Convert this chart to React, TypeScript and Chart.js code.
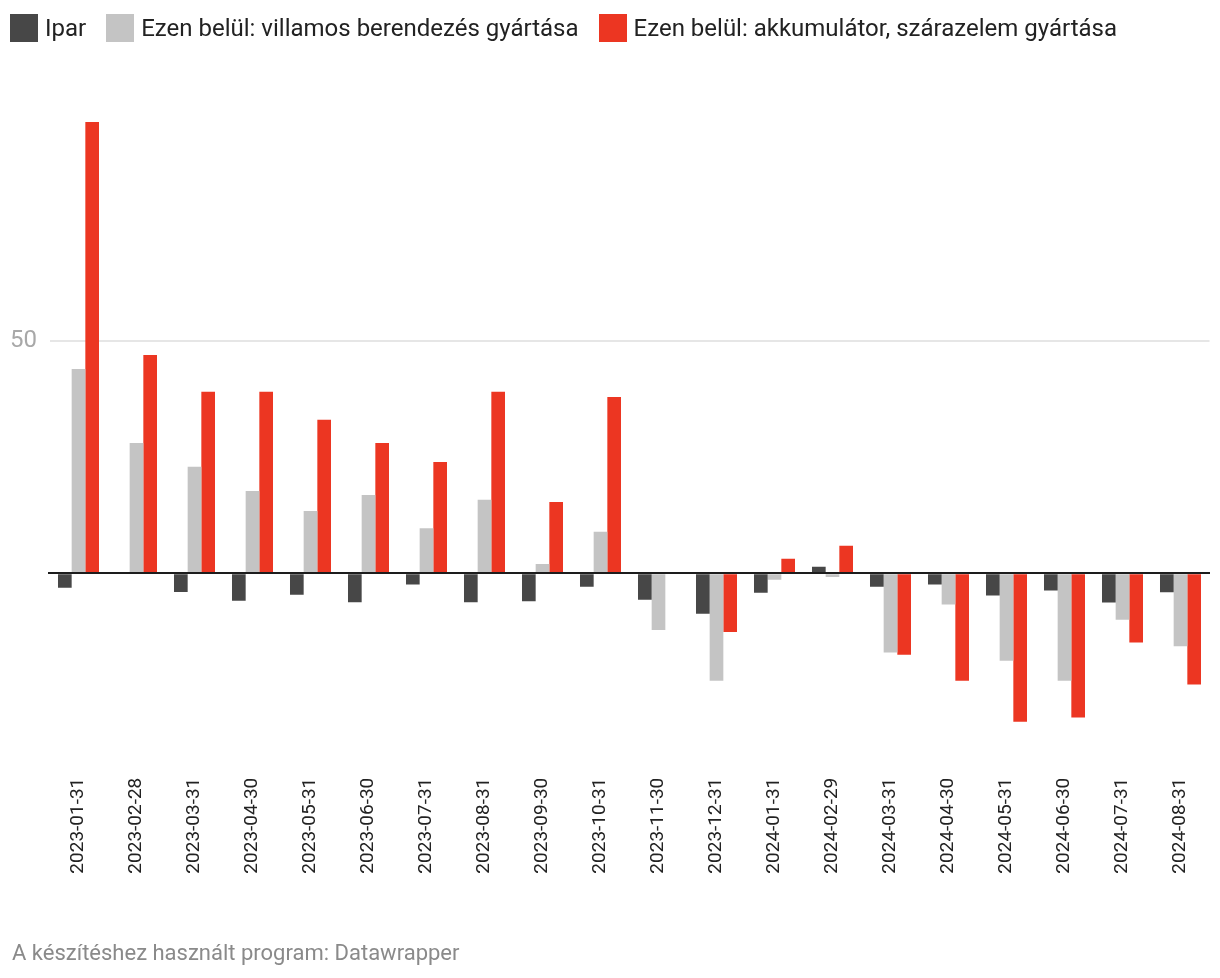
import React, { useEffect, useRef } from "react";
import { Chart, registerables } from "chart.js";

Chart.register(...registerables);

const categories: string[] = [
  "2023-01-31", "2023-02-28", "2023-03-31", "2023-04-30", "2023-05-31",
  "2023-06-30", "2023-07-31", "2023-08-31", "2023-09-30", "2023-10-31",
  "2023-11-30", "2023-12-31", "2024-01-31", "2024-02-29", "2024-03-31",
  "2024-04-30", "2024-05-31", "2024-06-30", "2024-07-31", "2024-08-31",
];

const seriesNames: string[] = [
  "Ipar",
  "Ezen belül: villamos berendezés gyártása",
  "Ezen belül: akkumulátor, szárazelem gyártása",
];

const ipar: number[] = [
  -3.1, 0, -4.0, -5.9, -4.6, -6.2, -2.4, -6.2, -6.0, -2.9,
  -5.7, -8.7, -4.2, 1.4, -2.9, -2.4, -4.8, -3.7, -6.3, -4.1,
];

const villamos: number[] = [
  43.9, 28.0, 22.9, 17.7, 13.4, 16.8, 9.7, 15.8, 2.0, 8.9,
  -12.2, -23.1, -1.4, -0.8, -17.0, -6.7, -18.8, -23.1, -10.0, -15.7,
];

const akkumulator: number[] = [
  97.0, 46.9, 39.0, 39.0, 33.0, 28.0, 23.9, 39.0, 15.3, 37.9,
  0.3, -12.6, 3.1, 5.9, -17.5, -23.1, -31.9, -31.0, -14.9, -23.9,
];

const yTicks: number[] = [0, 50];
const yLabelTicks: number[] = [50];

const colors = ["#474747", "#c4c4c4", "#ec3622"];

const FONT = "Roboto, 'Noto Sans', sans-serif";

const zeroLinePlugin = {
  id: "zeroLine",
  afterDatasetsDraw(chart: any) {
    const y = chart.scales.y;
    const area = chart.chartArea;
    const py = Math.round(y.getPixelForValue(0));
    const ctx = chart.ctx;
    ctx.save();
    ctx.strokeStyle = "#1d1d1d";
    ctx.lineWidth = 2;
    ctx.beginPath();
    ctx.moveTo(area.left - 1.5, py);
    ctx.lineTo(area.right + 0.5, py);
    ctx.stroke();
    ctx.restore();
  },
};

export default function App() {
  const canvasRef = useRef<HTMLCanvasElement | null>(null);

  useEffect(() => {
    if (!canvasRef.current) return;
    const seriesData = [ipar, villamos, akkumulator];
    const chart = new Chart(canvasRef.current, {
      type: "bar",
      data: {
        labels: categories,
        datasets: seriesNames.map((name, i) => ({
          label: name,
          data: seriesData[i],
          backgroundColor: colors[i],
          borderWidth: 0,
          categoryPercentage: 0.707,
          barPercentage: 1.0,
        })),
      },
      options: {
        responsive: false,
        animation: false,
        devicePixelRatio: 1,
        layout: { padding: { left: 10, right: 10.5, top: 108, bottom: 0 } },
        plugins: {
          legend: { display: false },
          tooltip: { enabled: false },
        },
        scales: {
          x: {
            grid: { display: false, drawTicks: false },
            border: { display: false },
            ticks: {
              autoSkip: false,
              minRotation: 90,
              maxRotation: 90,
              padding: 9,
              color: "#222222",
              font: { family: FONT, size: 19 },
            },
            afterFit: (scale: any) => {
              scale.height = 209.3;
            },
          },
          y: {
            min: -42,
            max: 100,
            grid: {
              drawTicks: false,
              color: (ctx: any) =>
                ctx.tick && ctx.tick.value === 50 ? "#e6e6e6" : "rgba(0,0,0,0)",
              lineWidth: 2,
            },
            border: { display: false },
            afterBuildTicks: (scale: any) => {
              scale.ticks = yTicks.map((v) => ({ value: v }));
            },
            ticks: {
              crossAlign: "far",
              padding: 0,
              color: "#a8a8a8",
              font: { family: FONT, size: 24 },
              callback: (value: any) =>
                yLabelTicks.includes(Number(value)) ? String(value) : "",
            },
            afterFit: (scale: any) => {
              scale.width = 39.5;
            },
          },
        },
      },
      plugins: [zeroLinePlugin],
    });
    return () => chart.destroy();
  }, []);

  return (
    <div
      style={{
        position: "absolute",
        left: 0,
        top: 0,
        width: 1220,
        height: 978,
        background: "#ffffff",
        fontFamily: FONT,
      }}
    >
      <canvas
        ref={canvasRef}
        width={1220}
        height={978}
        style={{ position: "absolute", left: 0, top: 0, width: 1220, height: 978 }}
      />
      <div
        style={{
          position: "absolute",
          left: 10,
          top: 14,
          display: "flex",
          alignItems: "center",
          height: 28,
        }}
      >
        {seriesNames.map((name, i) => (
          <div
            key={name}
            style={{ display: "flex", alignItems: "center", marginRight: 20 }}
          >
            <div
              style={{
                width: 28,
                height: 28,
                background: colors[i],
                marginRight: 7,
              }}
            />
            <span style={{ fontSize: 24, color: "#222222", whiteSpace: "nowrap" }}>
              {name}
            </span>
          </div>
        ))}
      </div>
      <div
        style={{
          position: "absolute",
          left: 12,
          top: 940,
          fontSize: 22,
          color: "#8a8a8a",
          whiteSpace: "nowrap",
        }}
      >
        A készítéshez használt program: Datawrapper
      </div>
    </div>
  );
}
